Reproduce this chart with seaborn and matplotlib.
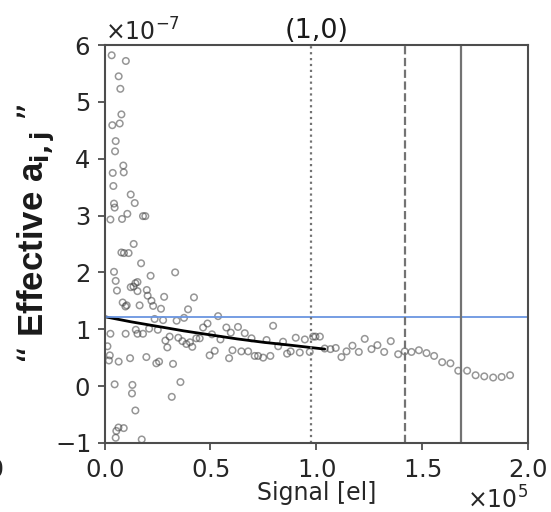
import numpy as np
import pandas as pd
import matplotlib
matplotlib.use("Agg")
import matplotlib.pyplot as plt
import seaborn as sns
from matplotlib.ticker import ScalarFormatter

# signal in units of 1e5 el, effective a_ij in units of 1e-7
signal = [
    0.033, 0.100, 0.066, 0.074, 0.079, 0.036, 0.071, 0.052, 0.049, 0.038,
    0.088, 0.090, 0.041, 0.123, 0.044, 0.047, 0.142, 0.027, 0.082, 0.107,
    0.181, 0.192, 0.137, 0.079, 0.091, 0.113,
    0.044, 0.052, 0.058, 0.172, 0.217, 0.333, 0.085, 0.098, 0.104, 0.123,
    0.136, 0.145, 0.155, 0.155, 0.199, 0.203, 0.221, 0.229, 0.165, 0.281,
    0.266, 0.276, 0.236, 0.340, 0.375, 0.394, 0.422,
    0.027, 0.099, 0.147, 0.155, 0.181, 0.210, 0.251, 0.287, 0.296, 0.307,
    0.348, 0.367, 0.386, 0.403, 0.414, 0.433, 0.449, 0.465, 0.486, 0.507,
    0.536, 0.547, 0.575, 0.596, 0.630, 0.662, 0.694, 0.765, 0.796,
    0.496, 0.520, 0.588, 0.604, 0.646, 0.678, 0.709, 0.725, 0.749, 0.783,
    0.013, 0.024, 0.020, 0.066, 0.120, 0.197, 0.244, 0.257, 0.323,
    0.047, 0.131, 0.129, 0.358, 0.317, 0.145, 0.065, 0.090, 0.055, 0.052, 0.175,
    0.820, 0.843, 0.862, 0.879, 0.903, 0.922, 0.946, 0.969, 0.985, 0.996,
    1.017, 1.040, 1.067, 1.092, 1.119, 1.143, 1.171, 1.201, 1.229, 1.261,
    1.289, 1.321, 1.352, 1.387, 1.418, 1.450, 1.485, 1.521, 1.557, 1.595,
    1.634, 1.671, 1.713, 1.753, 1.794, 1.836, 1.876, 1.916,
]
a_eff = [
    5.82, 5.72, 5.45, 5.23, 4.78, 4.59, 4.62, 4.31, 4.13, 3.75,
    3.88, 3.76, 3.52, 3.37, 3.21, 3.14, 3.22, 2.93, 2.94, 3.03,
    2.99, 2.99, 2.50, 2.35, 2.34, 2.34,
    2.01, 1.85, 1.68, 2.16, 1.94, 2.00, 1.47, 1.40, 1.42, 1.74,
    1.75, 1.81, 1.83, 1.67, 1.69, 1.59, 1.50, 1.41, 1.42, 1.57,
    1.36, 1.16, 1.18, 1.15, 1.20, 1.35, 1.56,
    0.92, 0.92, 0.99, 0.92, 0.92, 1.01, 0.99, 0.80, 0.68, 0.87,
    0.85, 0.79, 0.74, 0.77, 0.69, 0.84, 0.84, 1.03, 1.10, 0.91,
    1.23, 0.82, 1.03, 0.94, 1.04, 0.93, 0.84, 0.81, 1.06,
    0.54, 0.62, 0.49, 0.63, 0.61, 0.61, 0.53, 0.53, 0.50, 0.53,
    0.70, 0.54, 0.45, 0.43, 0.49, 0.51, 0.40, 0.43, 0.39,
    0.03, 0.02, -0.13, 0.07, -0.19, -0.43, -0.73, -0.74, -0.79, -0.91, -0.94,
    0.70, 0.78, 0.57, 0.61, 0.85, 0.59, 0.82, 0.60, 0.87, 0.87,
    0.87, 0.66, 0.65, 0.67, 0.51, 0.61, 0.71, 0.60, 0.83, 0.65,
    0.72, 0.60, 0.79, 0.56, 0.61, 0.60, 0.63, 0.58, 0.53, 0.42,
    0.40, 0.27, 0.27, 0.19, 0.17, 0.15, 0.16, 0.19,
]

# fitted curve
fit_signal = [0.0, 0.125, 0.25, 0.375, 0.5, 0.625, 0.75, 0.875, 1.04]
fit_a = [1.22, 1.13, 1.05, 0.97, 0.90, 0.83, 0.77, 0.72, 0.65]

a_level = 1.21           # horizontal reference
vlines = [0.974, 1.418, 1.683]
vstyles = [":", "--", "-"]

df = pd.DataFrame({"signal": np.array(signal) * 1e5, "a": np.array(a_eff) * 1e-7})
fit_df = pd.DataFrame({"signal": np.array(fit_signal) * 1e5, "a": np.array(fit_a) * 1e-7})

sns.set_theme(style="ticks")
plt.rcParams["font.family"] = ["DejaVu Sans"]

fig, ax = plt.subplots(figsize=(5.51, 5.12), dpi=100)
fig.subplots_adjust(left=0.19, right=0.958, top=0.912, bottom=0.135)

sns.scatterplot(data=df, x="signal", y="a", ax=ax, marker="o", s=22,
                facecolor="none", edgecolor="0.25", linewidth=1.1, alpha=0.55)
sns.lineplot(data=fit_df, x="signal", y="a", ax=ax, color="black", lw=2)
ax.axhline(a_level * 1e-7, color="#6a95e0", lw=1.3)
for xv, ls in zip(vlines, vstyles):
    ax.axvline(xv * 1e5, color="0.45", ls=ls, lw=1.6)

ax.set_xlim(0, 2e5)
ax.set_ylim(-1e-7, 6e-7)
ax.set_xticks(np.array([0, 0.5, 1.0, 1.5, 2.0]) * 1e5)
ax.set_yticks(np.arange(-1, 7) * 1e-7)
for axis in (ax.xaxis, ax.yaxis):
    fmt = ScalarFormatter(useMathText=True)
    fmt.set_powerlimits((0, 0))
    axis.set_major_formatter(fmt)
ax.tick_params(labelsize=17.5, length=5, width=1.2, color="0.25", labelcolor="0.15")
ax.tick_params(axis="x", pad=6)
ax.tick_params(axis="y", pad=5.5)
ax.xaxis.get_offset_text().set_fontsize(17)
ax.yaxis.get_offset_text().set_fontsize(17)
for sp in ax.spines.values():
    sp.set_visible(True)
    sp.set_color("0.3")
    sp.set_linewidth(1.5)

ax.set_title("(1,0)", fontsize=19.5, color="0.1", pad=5)
ax.set_xlabel("Signal [el]", fontsize=17, color="0.15", labelpad=-1)
ax.set_ylabel("\u201c Effective a$_{\\mathbf{i,j}}$ \u201d", fontsize=25,
              fontweight="bold", family=["Liberation Sans", "DejaVu Sans"], color="0.1")
ax.yaxis.set_label_coords(-0.112, 0.525)

# cut-off tick label of the neighbouring panel
fig.text(-0.008, 0.083, "0", fontsize=17, color="0.15", ha="center", va="center")

fig.savefig("out.png", dpi=100)
